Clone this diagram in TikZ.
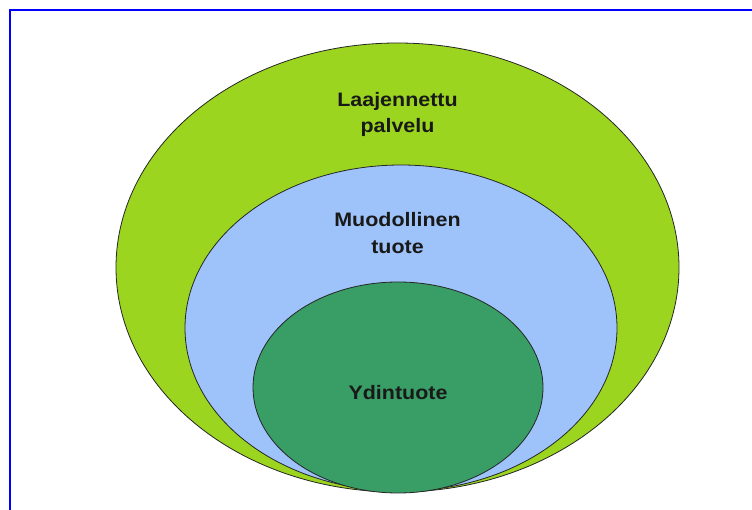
\documentclass[tikz,border=0pt]{standalone}
\usepackage{fontspec}
\setmainfont{Liberation Sans}[FakeStretch=1.1]
\definecolor{outergreen}{RGB}{155,213,31}
\definecolor{midblue}{RGB}{157,195,250}
\definecolor{coregreen}{RGB}{56,158,102}
\definecolor{frameblue}{RGB}{0,0,255}
\begin{document}
\begin{tikzpicture}[x=1pt,y=-1pt,
  ring/.style={draw=black!85,line width=0.8pt},
  lbl/.style={align=center,inner sep=0pt,font=\fontsize{19.5}{26.5}\selectfont\bfseries,text=black!90}]
\useasboundingbox (0,0) rectangle (752,510);
\fill[white] (0,0) rectangle (752,510);
\coordinate (fbl) at (10,511);
\coordinate (ftl) at (10,10);
\coordinate (ftr) at (753,10);
\draw[frameblue,line width=2pt] (fbl) -- (ftl) -- (ftr);
\draw[ring,fill=outergreen] (397.5,267.5) ellipse [x radius=281.5,y radius=224.5];
\draw[ring,fill=midblue] (401,328) ellipse [x radius=216,y radius=163];
\draw[ring,fill=coregreen] (398,387.5) ellipse [x radius=145,y radius=105.5];
\node[lbl] (outer) at (397.5,114.5) {Laajennettu\\palvelu};
\node[lbl] (mid) at (397.5,233) {Muodollinen\\tuote};
\node[lbl] (core) at (398,393) {Ydintuote};
\end{tikzpicture}
\end{document}
